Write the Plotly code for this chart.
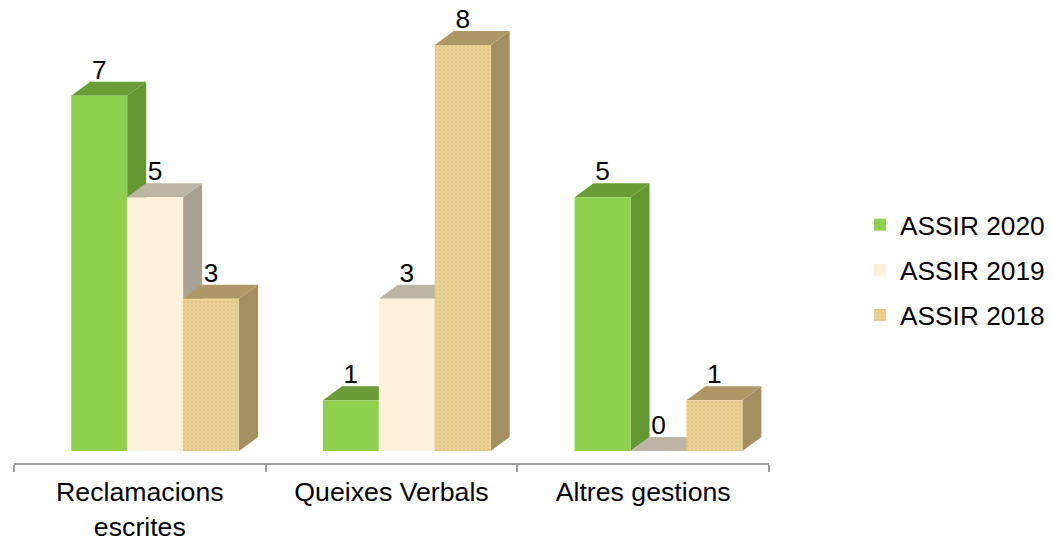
import plotly.graph_objects as go

categories = ["Reclamacions<br>escrites", "Queixes Verbals", "Altres gestions"]
series_names = ["ASSIR 2020", "ASSIR 2019", "ASSIR 2018"]
assir_2020 = [7, 1, 5]
assir_2019 = [5, 3, 0]
assir_2018 = [3, 8, 1]

front_colors = ["#8FD14F", "#FDF1DC", "#EBD296"]
side_colors = ["#649632", "#A8A090", "#A48F62"]
top_colors = ["#6A9C38", "#BDB5A4", "#AE9767"]

WIDTH, HEIGHT = 1052, 538
AX_L, AX_R, AX_Y = 14, 769, 463
PX_PER_X = (AX_R - AX_L) / 3
PX_PER_Y = 50.75
BASE_PX = 451
SHIFT = 15.3 / PX_PER_X          # 3D projection pushes the bars right of the tick centre
DX = 19 / PX_PER_X               # depth, x units
DY = 14 / PX_PER_Y               # depth, y units
LABEL_DROP = 3.5 / PX_PER_Y      # value labels sit slightly lower than the default gap
GROUP = 2 / 3
BAR_W = GROUP / 3
FONT = 26.3
TICK_FONT = 26.7

x_range = [-0.5, 2.5]
y_range = [-(AX_Y - BASE_PX) / PX_PER_Y, BASE_PX / PX_PER_Y]
centers = [i + SHIFT for i in range(len(categories))]

all_series = [assir_2020, assir_2019, assir_2018]
fig = go.Figure()

# depth faces, in series order, drawn under the front bars
for s, vals in enumerate(all_series):
    sx, sy, tx, ty = [], [], [], []
    for c, v in zip(centers, vals):
        l = c - GROUP / 2 + s * BAR_W
        r = l + BAR_W
        sx += [r, r + DX, r + DX, r, r, None]
        sy += [0, DY, v + DY, v, 0, None]
        tx += [l, l + DX, r + DX, r, l, None]
        ty += [v, v + DY, v + DY, v, v, None]
    for xs, ys, col in ((sx, sy, side_colors[s]), (tx, ty, top_colors[s])):
        fig.add_trace(go.Scatter(x=xs, y=ys, mode="lines", fill="toself", fillcolor=col,
                                 line=dict(width=0, color=col), hoverinfo="skip",
                                 showlegend=False, xaxis="x", yaxis="y"))

# front faces
for s, vals in enumerate(all_series):
    marker = dict(color=front_colors[s], line=dict(width=0))
    if s == 2:
        marker["pattern"] = dict(shape=".", size=4, solidity=0.3, fgcolor="#E0C282",
                                 bgcolor=front_colors[s], fillmode="replace")
    fig.add_trace(go.Bar(x=centers, y=vals, name=series_names[s], marker=marker,
                         legendgroup=series_names[s], xaxis="x2", yaxis="y2"))

# value labels, above the depth of each bar
for s, vals in enumerate(all_series):
    fig.add_trace(go.Scatter(x=[c - GROUP / 2 + (s + 0.5) * BAR_W for c in centers],
                             y=[v + DY - LABEL_DROP for v in vals], text=[str(v) for v in vals],
                             mode="text", textposition="top center",
                             textfont=dict(size=FONT, color="#000000"),
                             hoverinfo="skip", showlegend=False, cliponaxis=False,
                             xaxis="x2", yaxis="y2"))

dom = [0, (AX_R - AX_L) / (WIDTH - AX_L)]
fig.update_layout(
    width=WIDTH, height=HEIGHT,
    margin=dict(l=AX_L, r=0, t=0, b=HEIGHT - AX_Y, autoexpand=False),
    paper_bgcolor="#FFFFFF", plot_bgcolor="#FFFFFF",
    font=dict(family="Liberation Sans, Arial, sans-serif", size=FONT, color="#000000"),
    barmode="group", bargap=1 - GROUP, bargroupgap=0,
    xaxis=dict(domain=dom, range=x_range, showgrid=False, zeroline=False, showline=True,
               linecolor="#999999", linewidth=2, tickmode="array",
               tickvals=[0, 1, 2], ticktext=categories, ticks="", ticklabelstandoff=4,
               tickfont=dict(size=TICK_FONT, color="#000000"),
               minor=dict(tickmode="array", tickvals=[-0.5, 0.5, 1.5, 2.5], ticks="outside",
                          ticklen=7, tickwidth=2, tickcolor="#999999", showgrid=False)),
    yaxis=dict(range=y_range, visible=False),
    xaxis2=dict(domain=dom, range=x_range, overlaying="x", visible=False),
    yaxis2=dict(range=y_range, overlaying="y", visible=False),
    legend=dict(x=(860 - AX_L) / (WIDTH - AX_L), xanchor="left",
                y=1 - 201 / AX_Y, yanchor="top",
                xref="paper", yref="paper", font=dict(size=FONT, color="#000000"),
                tracegroupgap=8, bgcolor="rgba(0,0,0,0)"),
    showlegend=True,
)
fig.write_html("out.html", config={"displayModeBar": False},
               post_script="document.body.style.margin='0';document.body.style.overflow='hidden';")
